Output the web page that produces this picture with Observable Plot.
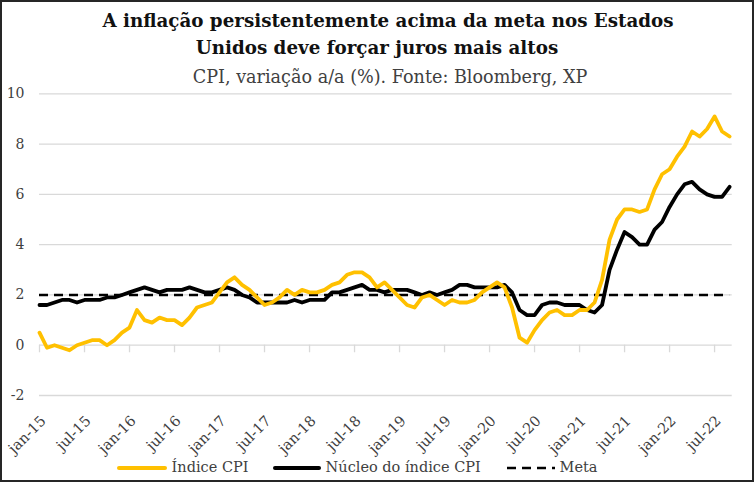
<!DOCTYPE html>
<html>
<head>
<meta charset="utf-8">
<script src="https://cdn.jsdelivr.net/npm/d3@7"></script>
<script src="https://cdn.jsdelivr.net/npm/@observablehq/plot@0.6"></script>
<style>
  html, body { margin: 0; padding: 0; background: #fff; }
  #wrap { position: relative; width: 754px; height: 482px; overflow: hidden; background: #fff; }
  #frame { position: absolute; left: 0; top: 0; width: 754px; height: 482px; box-sizing: border-box; border: 2px solid #262626; pointer-events: none; }
  .t { position: absolute; width: 754px; text-align: center; white-space: nowrap; }
  .title { font-family: "DejaVu Serif", serif; font-weight: bold; font-size: 18.3px; line-height: 20px; color: #111; }
  .sub { font-family: "DejaVu Serif", serif; font-size: 17.6px; line-height: 20px; color: #404040; }
  #chart { position: absolute; left: 0; top: 80px; }
  #legend { position: absolute; left: 0; top: 457px; width: 754px; height: 20px; font-family: "DejaVu Serif", serif; font-size: 14.5px; color: #404040; }
  .li { position: absolute; top: 0; height: 20px; line-height: 20px; white-space: nowrap; }
  .li svg { vertical-align: middle; }
</style>
</head>
<body>
<div id="wrap">
  <div class="t title" style="top:11px; left:11px">A inflação persistentemente acima da meta nos Estados</div>
  <div class="t title" style="top:37.5px; left:0px">Unidos deve forçar juros mais altos</div>
  <div class="t sub" style="top:67px; left:13px">CPI, variação a/a (%). Fonte: Bloomberg, XP</div>
  <div id="chart"></div>
  <div id="legend">
    <div class="li" style="left:117px"><svg width="50" height="8"><line x1="2" x2="48" y1="4" y2="4" stroke="#FFC000" stroke-width="4" stroke-linecap="round"/></svg> Índice CPI</div>
    <div class="li" style="left:273px"><svg width="48" height="8"><line x1="2" x2="46" y1="4" y2="4" stroke="#000" stroke-width="4" stroke-linecap="round"/></svg> Núcleo do índice CPI</div>
    <div class="li" style="left:507px"><svg width="48" height="8"><line x1="0" x2="48" y1="4" y2="4" stroke="#000" stroke-width="2.5" stroke-dasharray="9,6"/></svg> Meta</div>
  </div>
  <div id="frame"></div>
</div>
<script>
// Monthly series, Dec-2014 .. Aug-2022 (93 points)
const headline = [
  0.5,
  -0.1, 0.0, -0.1, -0.2, 0.0, 0.1, 0.2, 0.2, 0.0, 0.2, 0.5, 0.7,
  1.4, 1.0, 0.9, 1.1, 1.0, 1.0, 0.8, 1.1, 1.5, 1.6, 1.7, 2.1,
  2.5, 2.7, 2.4, 2.2, 1.9, 1.6, 1.7, 1.9, 2.2, 2.0, 2.2, 2.1,
  2.1, 2.2, 2.4, 2.5, 2.8, 2.9, 2.9, 2.7, 2.3, 2.5, 2.2, 1.9,
  1.6, 1.5, 1.9, 2.0, 1.8, 1.6, 1.8, 1.7, 1.7, 1.8, 2.1, 2.3,
  2.5, 2.3, 1.5, 0.3, 0.1, 0.6, 1.0, 1.3, 1.4, 1.2, 1.2, 1.4,
  1.4, 1.7, 2.6, 4.2, 5.0, 5.4, 5.4, 5.3, 5.4, 6.2, 6.8, 7.0,
  7.5, 7.9, 8.5, 8.3, 8.6, 9.1, 8.5, 8.3
];
const core = [
  1.6,
  1.6, 1.7, 1.8, 1.8, 1.7, 1.8, 1.8, 1.8, 1.9, 1.9, 2.0, 2.1,
  2.2, 2.3, 2.2, 2.1, 2.2, 2.2, 2.2, 2.3, 2.2, 2.1, 2.1, 2.2,
  2.3, 2.2, 2.0, 1.9, 1.7, 1.7, 1.7, 1.7, 1.7, 1.8, 1.7, 1.8,
  1.8, 1.8, 2.1, 2.1, 2.2, 2.3, 2.4, 2.2, 2.2, 2.1, 2.2, 2.2,
  2.2, 2.1, 2.0, 2.1, 2.0, 2.1, 2.2, 2.4, 2.4, 2.3, 2.3, 2.3,
  2.3, 2.4, 2.1, 1.4, 1.2, 1.2, 1.6, 1.7, 1.7, 1.6, 1.6, 1.6,
  1.4, 1.3, 1.6, 3.0, 3.8, 4.5, 4.3, 4.0, 4.0, 4.6, 4.9, 5.5,
  6.0, 6.4, 6.5, 6.2, 6.0, 5.9, 5.9, 6.3
];
const meta = 2;
const tickLabels = ["jan-15","jul-15","jan-16","jul-16","jan-17","jul-17","jan-18","jul-18",
                    "jan-19","jul-19","jan-20","jul-20","jan-21","jul-21","jan-22","jul-22"];
const tickStep = 6;
const yTicks = [-2, 0, 2, 4, 6, 8, 10];

const hData = headline.map((v, i) => ({i, v}));
const cData = core.map((v, i) => ({i, v}));
const xTicks = tickLabels.map((_, k) => k * tickStep);
const lastIdx = headline.length - 1;

const chart = Plot.plot({
  width: 754,
  height: 380,
  marginTop: 13.3,
  marginBottom: 65,
  marginLeft: 39,
  marginRight: 22.3,
  style: {fontFamily: "DejaVu Serif, serif", fontSize: "14px", color: "#404040", background: "transparent", overflow: "visible"},
  x: {domain: [0, lastIdx + 0.35]},
  y: {domain: [-2, 10]},
  marks: [
    Plot.ruleY(yTicks, {stroke: "#d9d9d9", strokeWidth: 1.3}),
    Plot.ruleX(xTicks, {y1: 0, y2: -0.3, stroke: "#d9d9d9", strokeWidth: 1.3}),
    Plot.axisY(yTicks, {tickSize: 0, tickPadding: 15, fontSize: 14, fill: "#404040", label: null, tickFormat: (d) => String(d)}),
    Plot.axisX(xTicks, {tickSize: 0, tickRotate: -45, tickFormat: (d) => tickLabels[d / tickStep], fontSize: 14.5, fill: "#404040", label: null, tickPadding: 23, dx: 4}),
    Plot.ruleY([meta], {x1: 0, x2: lastIdx, stroke: "#000", strokeWidth: 2.5, strokeDasharray: "9,6"}),
    Plot.line(cData, {x: "i", y: "v", stroke: "#000", strokeWidth: 3.8, strokeLinejoin: "round"}),
    Plot.line(hData, {x: "i", y: "v", stroke: "#FFC000", strokeWidth: 3.8, strokeLinejoin: "round"})
  ]
});
document.getElementById("chart").appendChild(chart);
</script>
</body>
</html>
